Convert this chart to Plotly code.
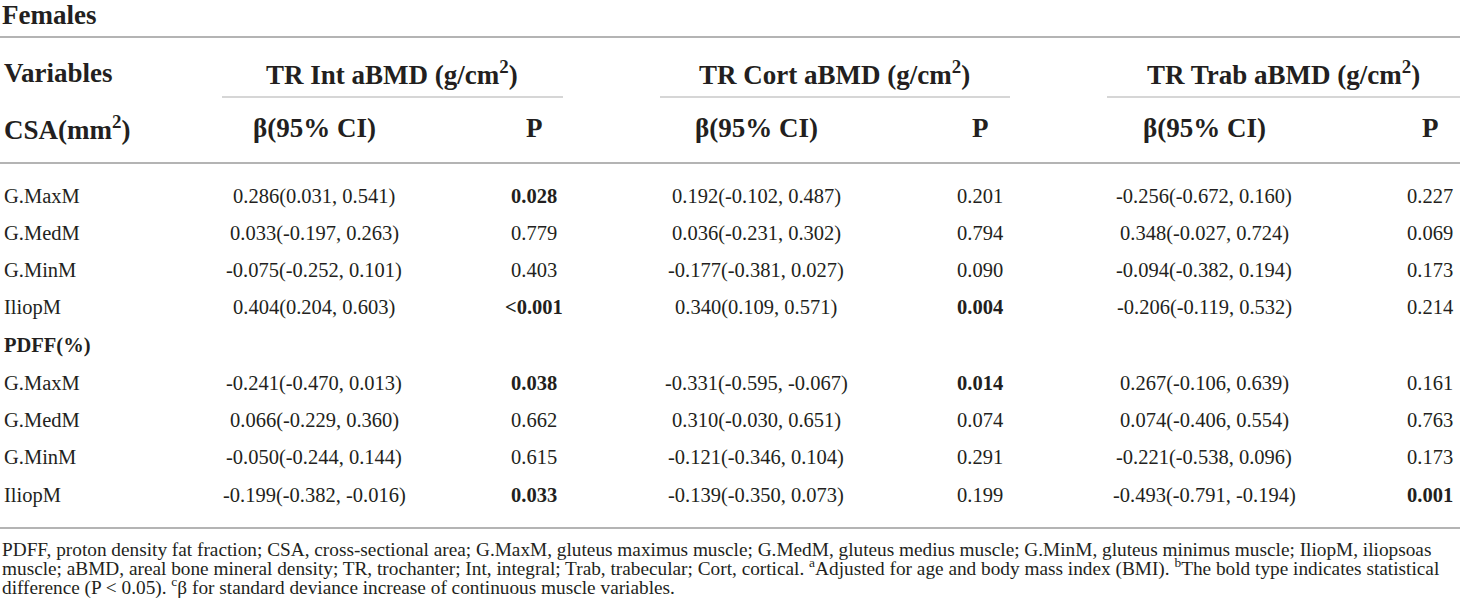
import plotly.graph_objects as go

# table data
muscles = ["G.MaxM", "G.MedM", "G.MinM", "IliopM"]

csa_int_beta = ["0.286(0.031, 0.541)", "0.033(-0.197, 0.263)", "-0.075(-0.252, 0.101)", "0.404(0.204, 0.603)"]
csa_int_p = ["0.028", "0.779", "0.403", "<0.001"]
csa_cort_beta = ["0.192(-0.102, 0.487)", "0.036(-0.231, 0.302)", "-0.177(-0.381, 0.027)", "0.340(0.109, 0.571)"]
csa_cort_p = ["0.201", "0.794", "0.090", "0.004"]
csa_trab_beta = ["-0.256(-0.672, 0.160)", "0.348(-0.027, 0.724)", "-0.094(-0.382, 0.194)", "-0.206(-0.119, 0.532)"]
csa_trab_p = ["0.227", "0.069", "0.173", "0.214"]

pdff_int_beta = ["-0.241(-0.470, 0.013)", "0.066(-0.229, 0.360)", "-0.050(-0.244, 0.144)", "-0.199(-0.382, -0.016)"]
pdff_int_p = ["0.038", "0.662", "0.615", "0.033"]
pdff_cort_beta = ["-0.331(-0.595, -0.067)", "0.310(-0.030, 0.651)", "-0.121(-0.346, 0.104)", "-0.139(-0.350, 0.073)"]
pdff_cort_p = ["0.014", "0.074", "0.291", "0.199"]
pdff_trab_beta = ["0.267(-0.106, 0.639)", "0.074(-0.406, 0.554)", "-0.221(-0.538, 0.096)", "-0.493(-0.791, -0.194)"]
pdff_trab_p = ["0.161", "0.763", "0.173", "0.001"]

outcomes = ["TR Int aBMD (g/cm<sup>2</sup>)", "TR Cort aBMD (g/cm<sup>2</sup>)", "TR Trab aBMD (g/cm<sup>2</sup>)"]

footnote = [
    "PDFF, proton density fat fraction; CSA, cross-sectional area; G.MaxM, gluteus maximus muscle; "
    "G.MedM, gluteus medius muscle; G.MinM, gluteus minimus muscle; IliopM, iliopsoas",
    "muscle; aBMD, areal bone mineral density; TR, trochanter; Int, integral; Trab, trabecular; Cort, cortical. "
    "<sup>a</sup>Adjusted for age and body mass index (BMI). <sup>b</sup>The bold type indicates statistical",
    "difference (P &lt; 0.05). <sup>c</sup>β for standard deviance increase of continuous muscle variables.",
]

W, H = 1460, 613
FONT = "Liberation Serif"
INK = "#231f20"
RULE = "#b4b4b4"

# layout (pixels)
group_x = [392, 834, 1283]
group_rule = [(222, 563), (660, 1010), (1107, 1460)]
beta_x = [314, 756, 1204]
p_x = [534, 980, 1430]
csa_y = [196, 233, 270, 307]
pdff_label_y = 345
pdff_y = [383, 420, 457, 495]

fig = go.Figure()
ann = []


def txt(x, y, s, size=20.5, bold=False, anchor="center"):
    if bold:
        s = "<b>" + s + "</b>"
    ann.append(dict(x=x, y=y, xref="x", yref="y", text=s, showarrow=False,
                    xanchor=anchor, yanchor="middle",
                    font=dict(family=FONT, size=size, color=INK)))


def pval(s):
    esc = s.replace("<", "&lt;")
    num = float(s.replace("<", ""))
    return esc, num < 0.05


# title and headers
txt(0, 15, "Females", size=27, bold=True, anchor="left")
txt(2, 73, "Variables", size=27, bold=True, anchor="left")
txt(2, 128, "CSA(mm<sup>2</sup>)", size=27, bold=True, anchor="left")
for gx, name in zip(group_x, outcomes):
    txt(gx, 73, name, size=27, bold=True)
for bx, px in zip(beta_x, p_x):
    txt(bx, 128, "β(95% CI)", size=27, bold=True)
    txt(px, 128, "P", size=27, bold=True)

# body
blocks = [
    (csa_y, [csa_int_beta, csa_cort_beta, csa_trab_beta], [csa_int_p, csa_cort_p, csa_trab_p]),
    (pdff_y, [pdff_int_beta, pdff_cort_beta, pdff_trab_beta], [pdff_int_p, pdff_cort_p, pdff_trab_p]),
]
for ys, betas, ps in blocks:
    for i, y in enumerate(ys):
        txt(2, y, muscles[i], anchor="left")
        for k in range(3):
            txt(beta_x[k], y, betas[k][i])
            s, b = pval(ps[k][i])
            txt(p_x[k], y, s, bold=b)
txt(2, pdff_label_y, "PDFF(%)", bold=True, anchor="left")

# footnote, tight leading as in the source
for j, line in enumerate(footnote):
    txt(0, 549 + j * 18.5, line, size=19.3, anchor="left")

# rules
shapes = []
for y0 in [37, 163, 528]:
    shapes.append(dict(type="line", xref="x", yref="y", x0=0, x1=W, y0=y0, y1=y0,
                       line=dict(color=RULE, width=2)))
for a, b in group_rule:
    shapes.append(dict(type="line", xref="x", yref="y", x0=a, x1=b, y0=97, y1=97,
                       line=dict(color="#c8c8c8", width=1.5)))

fig.update_layout(
    width=W, height=H,
    margin=dict(l=0, r=0, t=0, b=0),
    paper_bgcolor="white", plot_bgcolor="white",
    xaxis=dict(range=[0, W], visible=False, fixedrange=True),
    yaxis=dict(range=[H, 0], visible=False, fixedrange=True),
    annotations=ann, shapes=shapes, showlegend=False,
)

fig.write_html("out.html", config={"displayModeBar": False},
               post_script="document.body.style.margin='0';document.body.style.overflow='hidden';")
